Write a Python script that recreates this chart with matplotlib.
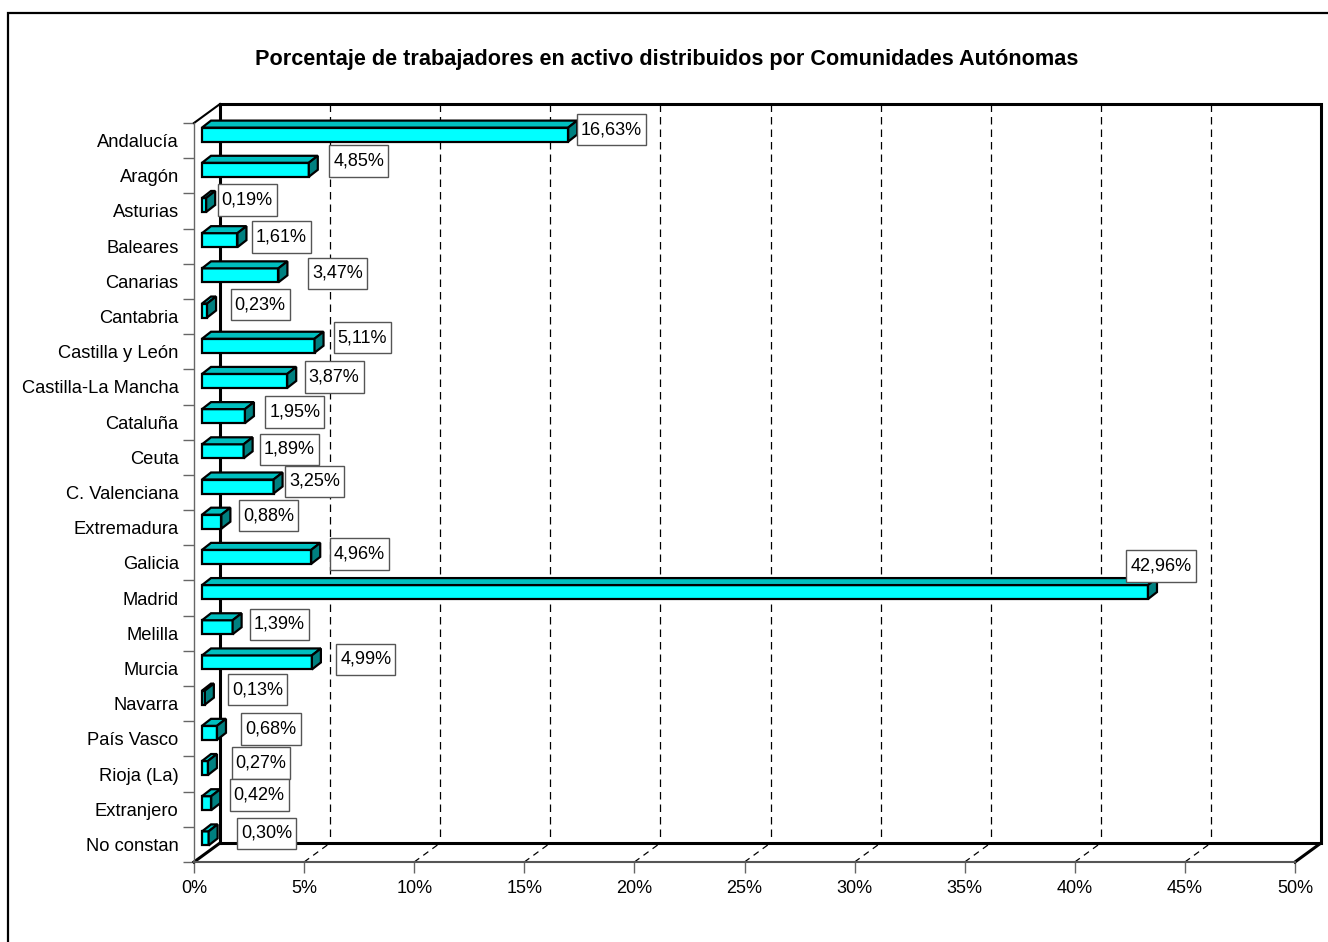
import matplotlib
matplotlib.use('Agg')
import matplotlib.pyplot as plt
from matplotlib.patches import Polygon, Rectangle
from matplotlib.path import Path

plt.rcParams['font.family'] = ['Liberation Sans', 'DejaVu Sans']

# data
regions = ['Andalucía', 'Aragón', 'Asturias', 'Baleares', 'Canarias', 'Cantabria',
           'Castilla y León', 'Castilla-La Mancha', 'Cataluña', 'Ceuta', 'C. Valenciana',
           'Extremadura', 'Galicia', 'Madrid', 'Melilla', 'Murcia', 'Navarra',
           'País Vasco', 'Rioja (La)', 'Extranjero', 'No constan']
percent = [16.63, 4.85, 0.19, 1.61, 3.47, 0.23, 5.11, 3.87, 1.95, 1.89, 3.25,
           0.88, 4.96, 42.96, 1.39, 4.99, 0.13, 0.68, 0.27, 0.42, 0.30]
xticks = list(range(0, 51, 5))
title = 'Porcentaje de trabajadores en activo distribuidos por Comunidades Autónomas'

# where the data labels sit relative to the bar end (pixels)
label_dx_px = [34, 41, 32, 35, 50, 44, 39, 38, 41, 37, 32, 38, 39, 4, 38, 45, 44, 45, 44, 39, 49]
label_dy_px = [11, 15, 11, 9, 8, 12, 14, 10, 10, 8, 11, 12, 9, 32, 9, 9, 14, 10, 11, 14, 11]


def label_box(x0, y0, width, height, mutation_size):
    # wider vertical padding than horizontal, like the excel labels
    px, py = 0.22 * mutation_size, 0.4 * mutation_size
    return Path([(x0 - px, y0 - py), (x0 + width + px, y0 - py),
                 (x0 + width + px, y0 + height + py), (x0 - px, y0 + height + py),
                 (x0 - px, y0 - py)], closed=True)


W, H = 1328, 942
fig = plt.figure(figsize=(W / 100, H / 100), dpi=100)

# outer frame (right/bottom fall outside the picture)
fig.patches.append(Rectangle((8 / W, -0.05), 1.1, 1 - 13 / H + 0.05, transform=fig.transFigure,
                             fill=False, edgecolor='black', lw=1.6))

left, right, top, bottom = 194, 1295, 123, 862
ax = fig.add_axes([left / W, (H - bottom) / H, (right - left) / W, (bottom - top) / H])
n = len(regions)
ax.set_xlim(0, 50)
ax.set_ylim(n - 0.5, -0.5)

sx = (right - left) / 50.0   # px per percent
sy = (bottom - top) / n      # px per category

# 3d depth in pixels
WX, WY = 26, 19      # walls
BX0, BY0 = 8, 6      # bar front plane
BX, BY = 9, 7        # bar depth
BH = 14              # bar front height

wx, wy = WX / sx, WY / sy
y_top, y_bot = -0.5, n - 0.5

# back wall + floor outlines
ax.plot([wx, wx, 50 + wx, 50 + wx, wx], [y_bot - wy, y_top - wy, y_top - wy, y_bot - wy, y_bot - wy],
        color='black', lw=2.2, clip_on=False, zorder=2, solid_joinstyle='miter')
ax.plot([0, wx], [y_top, y_top - wy], color='black', lw=1.5, clip_on=False, zorder=2)
ax.plot([0, wx], [y_bot, y_bot - wy], color='black', lw=2.2, clip_on=False, zorder=2)
ax.plot([50, 50 + wx], [y_bot, y_bot - wy], color='black', lw=2.2, clip_on=False, zorder=2)

# gridlines on back wall and floor
for k in xticks[1:-1]:
    ax.plot([k + wx, k + wx], [y_top - wy, y_bot - wy], color='black', lw=0.9,
            dashes=(6, 4), clip_on=False, zorder=1)
    ax.plot([k, k + wx], [y_bot, y_bot - wy], color='black', lw=0.9,
            dashes=(5, 4), clip_on=False, zorder=1)

# bars
bx0, by0 = BX0 / sx, BY0 / sy
bdx, bdy = BX / sx, BY / sy
bh = BH / sy
ys = [i - by0 for i in range(n)]
ax.barh(ys, percent, left=bx0, height=bh, color='#00FFFF', edgecolor='black',
        linewidth=1.6, zorder=3, clip_on=False)
for i, v in enumerate(percent):
    x0, x1 = bx0, bx0 + v
    yt, yb = ys[i] - bh / 2, ys[i] + bh / 2
    top_face = Polygon([(x0, yt), (x1, yt), (x1 + bdx, yt - bdy), (x0 + bdx, yt - bdy)],
                       closed=True, facecolor='#00BFBF', edgecolor='black', lw=1.6,
                       zorder=3, clip_on=False, joinstyle='miter')
    side_face = Polygon([(x1, yt), (x1 + bdx, yt - bdy), (x1 + bdx, yb - bdy), (x1, yb)],
                        closed=True, facecolor='#008080', edgecolor='black', lw=1.6,
                        zorder=3, clip_on=False, joinstyle='miter')
    ax.add_patch(top_face)
    ax.add_patch(side_face)
    lbl = ('%.2f%%' % v).replace('.', ',')
    ax.annotate(lbl, xy=(x1 + bdx, i), xytext=(label_dx_px[i], label_dy_px[i]),
                textcoords='offset pixels', ha='center', va='center', fontsize=13,
                zorder=5, annotation_clip=False,
                bbox=dict(boxstyle=label_box, facecolor='white',
                          edgecolor='#555555', lw=1))

# axes, ticks, labels
for s in ['top', 'right']:
    ax.spines[s].set_visible(False)
ax.spines['left'].set_color('#666666')
ax.spines['left'].set_linewidth(1.0)
ax.spines['bottom'].set_color('#555555')
ax.spines['bottom'].set_linewidth(1.5)
ax.set_facecolor('none')

ax.set_yticks(range(n))
ax.set_yticklabels(regions, fontsize=13.2)
ax.set_yticks([i - 0.5 for i in range(n + 1)], minor=True)
ax.tick_params(axis='y', which='major', length=0, pad=11)
ax.tick_params(axis='y', which='minor', length=8, color='#666666', width=1)
ax.set_xticks(xticks)
ax.set_xticklabels(['%d%%' % t for t in xticks], fontsize=13)
ax.tick_params(axis='x', length=8, color='#666666', width=1, pad=5)

fig.text(667 / W, 1 - 60 / H, title, ha='center', va='center', fontsize=15.6, fontweight='bold')

fig.savefig('out.png', dpi=100)
